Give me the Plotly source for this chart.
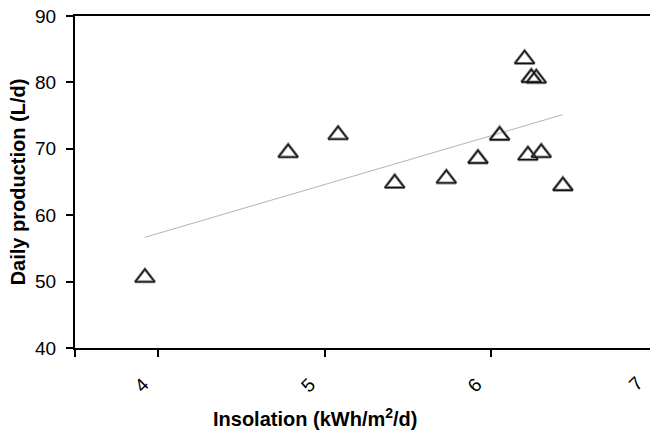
import numpy as np
import plotly.graph_objects as go

# Daily water production against solar insolation
insolation = [3.92, 4.78, 5.08, 5.42, 5.73, 5.92, 6.05, 6.20, 6.22, 6.24, 6.27, 6.30, 6.43]
production = [50.6, 69.4, 72.1, 64.8, 65.5, 68.5, 72.0, 83.5, 69.0, 80.7, 80.6, 69.4, 64.4]

x_tick_vals = [4, 5, 6, 7]
y_tick_vals = [40, 50, 60, 70, 80, 90]
x_range = [3.5, 6.953]
y_range = [40, 90]

FONT = "Liberation Sans, Arial, sans-serif"

# Least-squares linear trend over the measured span
slope, intercept = np.polyfit(insolation, production, 1)
fit_x = [min(insolation), max(insolation)]
fit_y = [slope * v + intercept for v in fit_x]

fig = go.Figure()
fig.add_trace(go.Scatter(
    x=fit_x, y=fit_y, mode="lines",
    line=dict(color="#b4b4b4", width=1), hoverinfo="skip", showlegend=False,
))
# soft grey rim under the black outline of each triangle
fig.add_trace(go.Scatter(
    x=insolation, y=production, mode="markers",
    marker=dict(symbol="triangle-up-open", size=17, color="#8c8c8c",
                line=dict(width=3)),
    hoverinfo="skip", showlegend=False,
))
fig.add_trace(go.Scatter(
    x=insolation, y=production, mode="markers",
    marker=dict(symbol="triangle-up-open", size=17, color="#111111",
                line=dict(width=1.3)),
    showlegend=False,
))

in_range = [v for v in x_tick_vals if x_range[0] <= v <= x_range[1]]
fig.update_xaxes(
    range=x_range, showgrid=False, zeroline=False,
    showline=True, linecolor="black", linewidth=2, mirror=True,
    ticks="outside", ticklen=7, tickwidth=1.5, tickcolor="black",
    tickvals=in_range, ticktext=[str(v) for v in in_range],
    # tick mark at the axis origin
    minor=dict(tickmode="array", tickvals=[x_range[0]], ticks="outside",
               ticklen=7, tickwidth=1.5, tickcolor="black", showgrid=False),
    tickangle=-45, ticklabelshift=-15, ticklabelstandoff=9,
    tickfont=dict(family=FONT, size=19, color="black"),
)
fig.update_yaxes(
    range=y_range, showgrid=False, zeroline=False,
    showline=True, linecolor="black", linewidth=2,
    ticks="outside", ticklen=7, tickwidth=1.5, tickcolor="black",
    tickvals=y_tick_vals, ticklabelstandoff=6,
    tickfont=dict(family=FONT, size=19, color="black"),
    title=dict(text="<b>Daily production (L/d)</b>", standoff=4,
               font=dict(family=FONT, size=20, color="black")),
)

# tick labels that fall just past the right edge of the plotting area
span = x_range[1] - x_range[0]
for v in x_tick_vals:
    if v > x_range[1]:
        fig.add_annotation(
            x=(v - x_range[0]) / span, y=0, xref="paper", yref="paper",
            xanchor="center", yanchor="middle", xshift=-22, yshift=-35,
            text=str(v), textangle=-45, showarrow=False,
            font=dict(family=FONT, size=19, color="black"),
        )

fig.add_annotation(
    x=0.417, y=0, xref="paper", yref="paper",
    xanchor="center", yanchor="middle", yshift=-69,
    text="<b>Insolation (kWh/m<sup>2</sup>/d)</b>", showarrow=False,
    font=dict(family=FONT, size=20, color="black"),
)

fig.update_layout(
    width=650, height=432,
    margin=dict(l=75, r=0, t=16, b=84),
    paper_bgcolor="white", plot_bgcolor="white",
)

fig.write_html("out.html")
